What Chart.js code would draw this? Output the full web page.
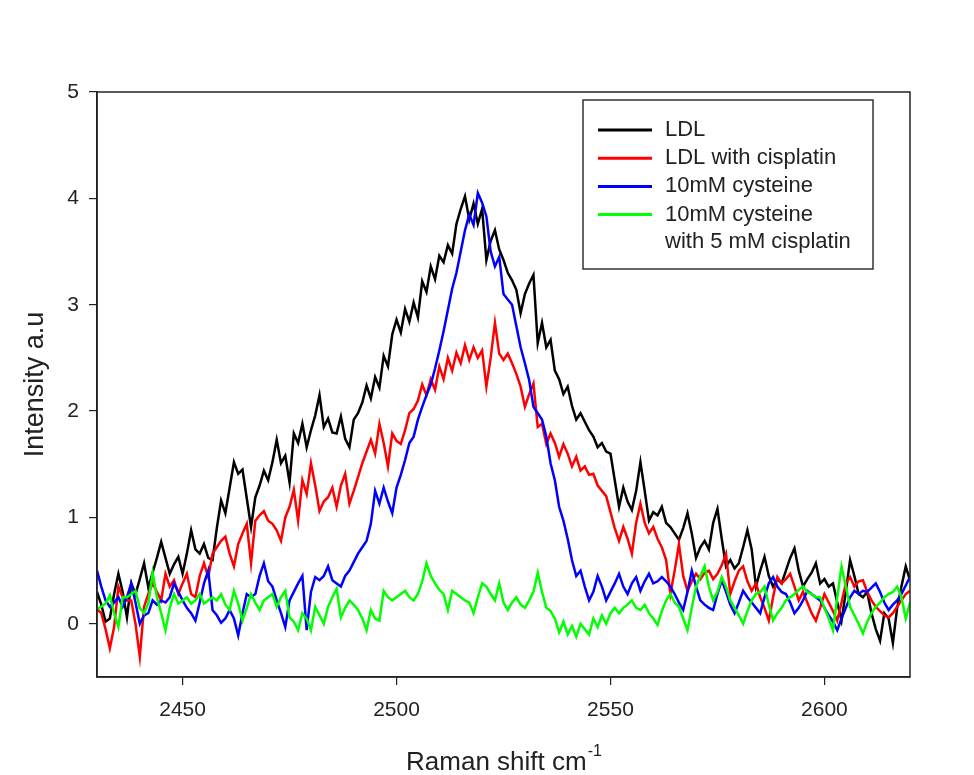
<!DOCTYPE html>
<html>
<head>
<meta charset="utf-8">
<script src="https://cdn.jsdelivr.net/npm/chart.js@4.4.1/dist/chart.umd.min.js"></script>
<style>
  html, body { margin: 0; padding: 0; background: #ffffff; }
  #ramanChart { display: block; }
</style>
</head>
<body>
<canvas id="ramanChart" width="974" height="775"></canvas>
<script>
// Raman shift grid (cm-1), one sample per wavenumber
const shiftStart = 2430;
const shiftEnd = 2620;

const seriesNames = ['LDL', 'LDL with cisplatin', '10mM cysteine', '10mM cysteine\nwith 5 mM cisplatin'];
const seriesColors = ['#000000', '#ff0000', '#0000ff', '#00ff00'];

// LDL
const ldlValues = [
  0.30, 0.18, 0.02, 0.05, 0.28, 0.47, 0.30, 0.06, 0.38, 0.28,
  0.42, 0.57, 0.34, 0.48, 0.62, 0.77, 0.62, 0.47, 0.56, 0.63,
  0.47, 0.66, 0.88, 0.70, 0.66, 0.75, 0.62, 0.60, 0.90, 1.16,
  1.04, 1.28, 1.52, 1.41, 1.45, 1.18, 0.91, 1.19, 1.30, 1.44,
  1.35, 1.52, 1.73, 1.51, 1.58, 1.33, 1.79, 1.70, 1.88, 1.66,
  1.82, 1.96, 2.15, 1.85, 1.93, 1.80, 1.79, 1.95, 1.74, 1.66,
  1.92, 1.98, 2.08, 2.24, 2.12, 2.32, 2.22, 2.52, 2.42, 2.72,
  2.86, 2.74, 2.96, 2.84, 3.02, 2.88, 3.22, 3.12, 3.36, 3.24,
  3.46, 3.40, 3.56, 3.48, 3.76, 3.90, 4.02, 3.80, 3.95, 3.76,
  3.90, 3.42, 3.60, 3.70, 3.52, 3.42, 3.30, 3.23, 3.14, 2.92,
  3.10, 3.20, 3.28, 2.64, 2.83, 2.60, 2.67, 2.38, 2.30, 2.16,
  2.23, 2.05, 1.92, 1.98, 1.90, 1.82, 1.76, 1.66, 1.70, 1.62,
  1.60, 1.35, 1.10, 1.28, 1.15, 1.07, 1.25, 1.52, 1.25, 0.97,
  1.05, 1.02, 1.10, 0.95, 0.91, 0.85, 0.79, 0.90, 1.04, 0.85,
  0.62, 0.72, 0.78, 0.70, 0.95, 1.08, 0.80, 0.54, 0.60, 0.52,
  0.57, 0.72, 0.88, 0.70, 0.35, 0.50, 0.63, 0.45, 0.35, 0.42,
  0.38, 0.50, 0.62, 0.71, 0.50, 0.35, 0.42, 0.48, 0.57, 0.38,
  0.42, 0.35, 0.38, 0.20, 0.03, 0.30, 0.60, 0.45, 0.28, 0.25,
  0.30, 0.10, -0.05, -0.16, 0.10, 0.05, -0.18, 0.15, 0.35, 0.54,
  0.41
];

// LDL with cisplatin
const ldlCisplatinValues = [
  0.14, 0.10, -0.05, -0.23, -0.03, 0.35, 0.25, 0.22, 0.22, 0.00,
  -0.31, 0.16, 0.28, 0.38, 0.30, 0.22, 0.47, 0.35, 0.41, 0.28,
  0.38, 0.47, 0.28, 0.25, 0.45, 0.57, 0.44, 0.66, 0.72, 0.78,
  0.82, 0.66, 0.54, 0.75, 0.85, 0.94, 0.57, 0.97, 1.02, 1.06,
  0.97, 0.94, 0.88, 0.78, 1.00, 1.10, 1.26, 0.97, 1.35, 1.22,
  1.51, 1.30, 1.06, 1.15, 1.19, 1.28, 1.10, 1.30, 1.41, 1.13,
  1.25, 1.38, 1.51, 1.62, 1.73, 1.60, 1.88, 1.70, 1.48, 1.79,
  1.72, 1.69, 1.82, 1.98, 2.02, 2.10, 2.25, 2.15, 2.30, 2.20,
  2.42, 2.30, 2.50, 2.38, 2.55, 2.45, 2.62, 2.48, 2.60, 2.50,
  2.57, 2.23, 2.50, 2.83, 2.54, 2.48, 2.54, 2.45, 2.35, 2.23,
  2.04, 2.16, 2.26, 1.85, 1.88, 1.69, 1.79, 1.70, 1.57, 1.69,
  1.60, 1.48, 1.57, 1.44, 1.48, 1.40, 1.41, 1.30, 1.25, 1.20,
  1.05, 0.90, 0.78, 0.91, 0.80, 0.66, 0.95, 1.13, 0.95, 0.85,
  0.91, 0.80, 0.72, 0.60, 0.28, 0.50, 0.75, 0.45, 0.31, 0.40,
  0.47, 0.42, 0.48, 0.50, 0.42, 0.47, 0.55, 0.66, 0.28, 0.40,
  0.50, 0.54, 0.40, 0.31, 0.38, 0.25, 0.15, 0.03, 0.25, 0.44,
  0.38, 0.42, 0.47, 0.35, 0.22, 0.30, 0.20, 0.10, 0.03, 0.15,
  0.28, 0.20, 0.12, 0.03, 0.20, 0.38, 0.44, 0.35, 0.40, 0.41,
  0.30, 0.22, 0.16, 0.12, 0.08, 0.06, 0.10, 0.16, 0.22, 0.28,
  0.31
];

// 10mM cysteine
const cysteineValues = [
  0.50, 0.35, 0.22, 0.16, 0.20, 0.25, 0.16, 0.25, 0.38, 0.20,
  0.00, 0.08, 0.10, 0.22, 0.18, 0.22, 0.20, 0.25, 0.38, 0.30,
  0.22, 0.15, 0.10, 0.03, 0.20, 0.38, 0.50, 0.13, 0.08, 0.01,
  0.05, 0.13, 0.05, -0.11, 0.10, 0.28, 0.25, 0.28, 0.45, 0.57,
  0.40, 0.35, 0.22, 0.10, -0.03, 0.22, 0.30, 0.38, 0.45, -0.06,
  0.30, 0.44, 0.41, 0.45, 0.54, 0.41, 0.38, 0.35, 0.45, 0.50,
  0.58, 0.66, 0.72, 0.78, 0.94, 1.25, 1.13, 1.28, 1.15, 1.04,
  1.28, 1.40, 1.54, 1.70, 1.76, 1.92, 2.04, 2.15, 2.25, 2.40,
  2.57, 2.75, 2.95, 3.15, 3.30, 3.50, 3.70, 3.85, 3.75, 4.05,
  3.96, 3.83, 3.50, 3.36, 3.45, 3.10, 3.05, 3.00, 2.80, 2.60,
  2.45, 2.29, 2.04, 1.98, 1.92, 1.76, 1.51, 1.35, 1.10, 0.97,
  0.80, 0.60, 0.45, 0.50, 0.35, 0.22, 0.30, 0.45, 0.35, 0.22,
  0.30, 0.38, 0.47, 0.35, 0.28, 0.38, 0.44, 0.31, 0.40, 0.47,
  0.38, 0.40, 0.44, 0.40, 0.35, 0.28, 0.20, 0.13, 0.30, 0.50,
  0.35, 0.22, 0.18, 0.15, 0.13, 0.28, 0.41, 0.30, 0.18, 0.10,
  0.20, 0.31, 0.25, 0.20, 0.15, 0.10, 0.25, 0.38, 0.44, 0.35,
  0.30, 0.28, 0.20, 0.10, 0.15, 0.22, 0.31, 0.28, 0.25, 0.22,
  0.15, 0.08, 0.02, -0.06, 0.05, 0.15, 0.25, 0.31, 0.28, 0.31,
  0.30, 0.34, 0.38, 0.30, 0.20, 0.13, 0.18, 0.22, 0.28, 0.36,
  0.44
];

// 10mM cysteine with 5 mM cisplatin
const cysteineCisplatinValues = [
  0.14, 0.16, 0.19, 0.27, 0.10, -0.03, 0.25, 0.25, 0.28, 0.31,
  0.15, 0.10, 0.19, 0.48, 0.25, 0.10, -0.06, 0.15, 0.28, 0.19,
  0.22, 0.25, 0.19, 0.22, 0.28, 0.19, 0.22, 0.25, 0.22, 0.28,
  0.18, 0.13, 0.31, 0.19, 0.03, 0.15, 0.28, 0.20, 0.13, 0.22,
  0.25, 0.28, 0.16, 0.25, 0.31, 0.06, 0.02, -0.06, 0.10, 0.05,
  -0.06, 0.16, 0.08, 0.00, 0.16, 0.25, 0.33, 0.06, 0.15, 0.22,
  0.18, 0.13, 0.05, -0.06, 0.13, 0.05, 0.03, 0.31, 0.25, 0.22,
  0.25, 0.28, 0.31, 0.25, 0.22, 0.28, 0.40, 0.57, 0.45, 0.38,
  0.32, 0.28, 0.13, 0.31, 0.28, 0.25, 0.22, 0.20, 0.10, 0.25,
  0.38, 0.35, 0.28, 0.22, 0.38, 0.20, 0.13, 0.20, 0.25, 0.18,
  0.15, 0.22, 0.30, 0.48, 0.30, 0.15, 0.12, 0.05, -0.08, 0.02,
  -0.10, -0.02, -0.12, 0.00, -0.05, -0.10, 0.05, -0.03, 0.08, 0.00,
  0.10, 0.15, 0.10, 0.15, 0.18, 0.22, 0.15, 0.13, 0.18, 0.10,
  0.05, -0.01, 0.12, 0.22, 0.28, 0.20, 0.16, 0.05, -0.06, 0.15,
  0.35, 0.45, 0.54, 0.35, 0.22, 0.30, 0.44, 0.35, 0.22, 0.15,
  0.08, 0.00, 0.12, 0.22, 0.28, 0.30, 0.35, 0.18, 0.03, 0.10,
  0.15, 0.22, 0.25, 0.28, 0.32, 0.35, 0.30, 0.28, 0.25, 0.25,
  0.15, 0.05, -0.06, 0.25, 0.54, 0.35, 0.16, 0.08, 0.00, -0.09,
  0.02, 0.10, 0.16, 0.20, 0.25, 0.28, 0.30, 0.35, 0.25, 0.05,
  0.20
];

const seriesValues = [ldlValues, ldlCisplatinValues, cysteineValues, cysteineCisplatinValues];

const xTickStep = 50;
const yTickStep = 1;

const textColor = '#222222';
const fontFamily = "'Liberation Sans', Arial, Helvetica, sans-serif";

// Build datasets (pair each value with its Raman shift)
const ramanDatasets = seriesValues.map((vals, i) => ({
  label: seriesNames[i],
  data: vals.map((v, k) => ({ x: shiftStart + k, y: v })),
  borderColor: seriesColors[i],
  backgroundColor: seriesColors[i],
  borderWidth: 2.5,
  pointRadius: 0,
  tension: 0,
  fill: false,
  order: seriesValues.length - i   // later series drawn on top
}));

// Box around the plot area
const plotFrame = {
  id: 'plotFrame',
  afterDraw(chart) {
    const {ctx, chartArea: a} = chart;
    ctx.save();
    ctx.strokeStyle = textColor;
    ctx.lineWidth = 1.5;
    ctx.strokeRect(a.left, a.top, a.right - a.left, a.bottom - a.top);
    ctx.restore();
  }
};

// Legend drawn inside the plot, top right, with a border
const insideLegend = {
  id: 'insideLegend',
  afterDraw(chart) {
    const {ctx, chartArea: a} = chart;
    const boxRight = a.right - 37;
    const boxLeft = boxRight - 290;
    const boxTop = a.top + 8;
    const boxBottom = boxTop + 169;
    ctx.save();
    ctx.fillStyle = '#ffffff';
    ctx.fillRect(boxLeft, boxTop, boxRight - boxLeft, boxBottom - boxTop);
    ctx.strokeStyle = '#333333';
    ctx.lineWidth = 1.5;
    ctx.strokeRect(boxLeft, boxTop, boxRight - boxLeft, boxBottom - boxTop);

    ctx.font = '22px ' + fontFamily;
    ctx.textBaseline = 'middle';
    ctx.textAlign = 'left';
    const rowH = 28.2;
    let y = boxTop + 30;
    chart.data.datasets.forEach(ds => {
      const lines = ds.label.split('\n');
      ctx.strokeStyle = ds.borderColor;
      ctx.lineWidth = 3;
      ctx.beginPath();
      ctx.moveTo(boxLeft + 15, y);
      ctx.lineTo(boxLeft + 69, y);
      ctx.stroke();
      ctx.fillStyle = textColor;
      lines.forEach((t, j) => ctx.fillText(t, boxLeft + 82, y + j * (rowH - 1)));
      y += rowH * lines.length;
    });
    ctx.restore();
  }
};

// x axis title with superscript
const xTitle = {
  id: 'xTitle',
  afterDraw(chart) {
    const {ctx, chartArea: a} = chart;
    const main = 'Raman shift cm';
    const sup = '-1';
    ctx.save();
    ctx.fillStyle = textColor;
    ctx.textBaseline = 'alphabetic';
    ctx.font = '26px ' + fontFamily;
    const wMain = ctx.measureText(main).width;
    ctx.font = '16px ' + fontFamily;
    const wSup = ctx.measureText(sup).width;
    const x0 = (a.left + a.right) / 2 - (wMain + wSup) / 2;
    const base = chart.height - 5;
    ctx.font = '26px ' + fontFamily;
    ctx.fillText(main, x0, base);
    ctx.font = '16px ' + fontFamily;
    ctx.fillText(sup, x0 + wMain + 1, base - 14);
    ctx.restore();
  }
};

const ramanConfig = {
  type: 'line',
  data: { datasets: ramanDatasets },
  options: {
    responsive: false,
    animation: false,
    layout: { padding: { top: 92, right: 64, bottom: 0, left: 0 } },
    plugins: {
      legend: { display: false },
      tooltip: { enabled: false }
    },
    scales: {
      x: {
        type: 'linear',
        min: shiftStart,
        max: shiftEnd,
        afterFit(scale) { scale.height = 98; },
        ticks: {
          stepSize: xTickStep,
          includeBounds: false,
          color: textColor,
          font: { family: fontFamily, size: 21 },
          padding: 13,
          maxRotation: 0,
          callback: v => String(v)
        },
        grid: { drawOnChartArea: false, drawTicks: true, tickLength: 8, color: textColor, lineWidth: 1.2 },
        border: { display: true, color: textColor, width: 1.5 }
      },
      y: {
        min: -0.5,
        max: 5,
        afterFit(scale) { scale.width = 97; },
        ticks: {
          stepSize: yTickStep,
          includeBounds: false,
          color: textColor,
          font: { family: fontFamily, size: 21 },
          padding: 10,
          callback: v => String(v)
        },
        grid: { drawOnChartArea: false, drawTicks: true, tickLength: 8, color: textColor, lineWidth: 1.2 },
        border: { display: true, color: textColor, width: 1.5 },
        title: {
          display: true,
          text: 'Intensity a.u',
          color: textColor,
          font: { family: fontFamily, size: 27 },
          padding: { top: 19, bottom: 0 }
        }
      }
    }
  },
  plugins: [plotFrame, insideLegend, xTitle]
};

const ramanChart = new Chart(document.getElementById('ramanChart'), ramanConfig);
</script>
</body>
</html>
